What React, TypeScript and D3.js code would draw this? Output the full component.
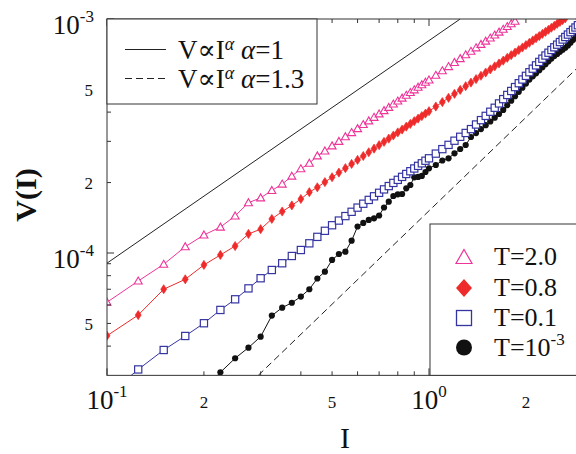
import React from "react";
import * as d3 from "d3";

// Current values (shared x grid)
const CURRENTS = [
  0.1, 0.125, 0.15, 0.175, 0.2, 0.225, 0.25, 0.275, 0.3, 0.325, 0.35, 0.375, 0.4, 0.425, 0.45, 0.475,
  0.5, 0.525, 0.55, 0.575, 0.6, 0.625, 0.65, 0.675, 0.7, 0.725, 0.75, 0.775, 0.8, 0.825, 0.85, 0.875,
  0.9, 0.925, 0.95, 0.975, 1.0, 1.05, 1.1, 1.15, 1.2, 1.25, 1.3, 1.35, 1.4, 1.45, 1.5, 1.55, 1.6,
  1.65, 1.7, 1.75, 1.8, 1.85, 1.9, 1.95, 2.0, 2.05, 2.1, 2.15, 2.2, 2.25, 2.3, 2.35, 2.4, 2.45, 2.5,
  2.55, 2.6, 2.65, 2.7, 2.75, 2.8, 2.85, 2.9,
];

// T = 2.0 (starts at CURRENTS[0])
const V_T20 = [
  6.16e-5, 7.59e-5, 8.95e-5, 1.064e-4, 1.194e-4, 1.29e-4, 1.44e-4, 1.64e-4, 1.72e-4, 1.85e-4, 1.97e-4,
  2.13e-4, 2.29e-4, 2.42e-4, 2.6e-4, 2.73e-4, 2.87e-4, 3.0e-4, 3.14e-4, 3.27e-4, 3.4e-4, 3.54e-4,
  3.67e-4, 3.8e-4, 3.93e-4, 4.06e-4, 4.19e-4, 4.33e-4, 4.46e-4, 4.59e-4, 4.72e-4, 4.85e-4, 4.98e-4,
  5.11e-4, 5.24e-4, 5.37e-4, 5.49e-4, 5.75e-4, 6.01e-4, 6.26e-4, 6.52e-4, 6.77e-4, 7.03e-4, 7.28e-4,
  7.53e-4, 7.79e-4, 8.04e-4, 8.29e-4, 8.54e-4, 8.79e-4, 9.04e-4, 9.29e-4, 9.54e-4, 9.78e-4,
];

// T = 0.8 (starts at CURRENTS[0])
const V_T08 = [
  4.43e-5, 5.43e-5, 7.0e-5, 7.72e-5, 8.89e-5, 9.81e-5, 1.071e-4, 1.206e-4, 1.264e-4, 1.398e-4,
  1.504e-4, 1.597e-4, 1.701e-4, 1.819e-4, 1.909e-4, 2.009e-4, 2.107e-4, 2.207e-4, 2.304e-4, 2.402e-4,
  2.5e-4, 2.597e-4, 2.695e-4, 2.792e-4, 2.888e-4, 2.985e-4, 3.081e-4, 3.178e-4, 3.275e-4, 3.37e-4,
  3.467e-4, 3.562e-4, 3.658e-4, 3.753e-4, 3.847e-4, 3.942e-4, 4.037e-4, 4.226e-4, 4.414e-4, 4.602e-4,
  4.79e-4, 4.976e-4, 5.163e-4, 5.349e-4, 5.535e-4, 5.72e-4, 5.905e-4, 6.089e-4, 6.274e-4, 6.457e-4,
  6.641e-4, 6.824e-4, 7.006e-4, 7.188e-4, 7.371e-4, 7.553e-4, 7.735e-4, 7.915e-4, 8.096e-4, 8.277e-4,
  8.457e-4, 8.637e-4, 8.817e-4, 8.996e-4, 9.176e-4, 9.355e-4, 9.534e-4, 9.713e-4, 9.891e-4, 1.007e-3,
];

// T = 0.1 (starts at CURRENTS[0])
const V_T01 = [
  2.45e-5, 3.18e-5, 3.85e-5, 4.42e-5, 5.01e-5, 5.71e-5, 6.34e-5, 7.06e-5, 7.8e-5, 8.46e-5, 9.04e-5,
  9.71e-5, 1.03e-4, 1.1e-4, 1.172e-4, 1.244e-4, 1.314e-4, 1.376e-4, 1.438e-4, 1.5e-4, 1.563e-4,
  1.624e-4, 1.686e-4, 1.747e-4, 1.808e-4, 1.87e-4, 1.932e-4, 1.993e-4, 2.054e-4, 2.115e-4, 2.176e-4,
  2.236e-4, 2.297e-4, 2.357e-4, 2.417e-4, 2.479e-4, 2.539e-4, 2.659e-4, 2.779e-4, 2.898e-4, 3.019e-4,
  3.138e-4, 3.258e-4, 3.384e-4, 3.541e-4, 3.697e-4, 3.855e-4, 4.015e-4, 4.175e-4, 4.357e-4, 4.545e-4,
  4.736e-4, 4.925e-4, 5.117e-4, 5.316e-4, 5.514e-4, 5.715e-4, 5.923e-4, 6.133e-4, 6.337e-4, 6.555e-4,
  6.766e-4, 6.981e-4, 7.176e-4, 7.371e-4, 7.57e-4, 7.768e-4, 7.971e-4, 8.171e-4, 8.376e-4, 8.579e-4,
  8.787e-4, 8.991e-4, 9.2e-4, 9.406e-4,
];

// T = 10^-3 (starts at CURRENTS[4])
const V_T0001 = [
  2.62e-5, 3.09e-5, 3.55e-5, 3.94e-5, 4.39e-5, 5.4e-5, 5.84e-5, 6.13e-5, 6.51e-5, 7.0e-5, 7.78e-5,
  8.32e-5, 9.34e-5, 9.9e-5, 1.013e-4, 1.129e-4, 1.298e-4, 1.344e-4, 1.384e-4, 1.407e-4, 1.446e-4,
  1.565e-4, 1.657e-4, 1.752e-4, 1.782e-4, 1.787e-4, 1.89e-4, 1.953e-4, 2.106e-4, 2.113e-4, 2.134e-4,
  2.219e-4, 2.301e-4, 2.377e-4, 2.485e-4, 2.539e-4, 2.667e-4, 2.783e-4, 2.894e-4, 3.131e-4, 3.254e-4,
  3.384e-4, 3.517e-4, 3.647e-4, 3.786e-4, 3.927e-4, 4.086e-4, 4.282e-4, 4.477e-4, 4.676e-4, 4.883e-4,
  5.088e-4, 5.296e-4, 5.509e-4, 5.687e-4, 5.861e-4, 6.046e-4, 6.226e-4, 6.41e-4, 6.594e-4, 6.777e-4,
  6.947e-4, 7.092e-4, 7.241e-4, 7.388e-4, 7.536e-4, 7.709e-4, 7.917e-4, 8.123e-4, 8.334e-4, 8.542e-4,
];

// Reference power-law guide lines (endpoints)
const GUIDE_ALPHA1 = [[0.1, 9.05e-5], [1.25, 1.0e-3]];
const GUIDE_ALPHA13 = [[0.295, 3.0e-5], [3.0, 6.5e-4]];

const X_MAJOR = [0.1, 1];
const X_MINOR = [0.2, 0.3, 0.4, 0.5, 0.6, 0.7, 0.8, 0.9, 2, 3];
const Y_MAJOR = [1e-4, 1e-3];
const Y_MINOR = [4e-5, 5e-5, 6e-5, 7e-5, 8e-5, 9e-5, 2e-4, 3e-4, 4e-4, 5e-4, 6e-4, 7e-4, 8e-4, 9e-4];
const X_LABELS = [
  { v: 0.1, base: "10", exp: "-1" },
  { v: 0.2, base: "2" },
  { v: 0.5, base: "5" },
  { v: 1, base: "10", exp: "0" },
  { v: 2, base: "2" },
];
const Y_LABELS = [
  { v: 1e-3, base: "10", exp: "-3" },
  { v: 5e-4, base: "5" },
  { v: 2e-4, base: "2" },
  { v: 1e-4, base: "10", exp: "-4" },
  { v: 5e-5, base: "5" },
];

const SERIF = "'Liberation Serif', 'Times New Roman', 'DejaVu Serif', serif";
const PINK = "#ee3399";
const RED = "#ee2a2a";
const BLUE = "#3434a2";
const BLACK = "#111111";

const W = 576;
const H = 454;
const X0 = 107;
const DEC_X = 322;
const Y0 = 19;
const DEC_Y = 234;

const x = d3.scaleLog().domain([0.1, 3]).range([X0, X0 + DEC_X * Math.log10(30)]);
const y = d3.scaleLog().domain([3e-5, 1e-3]).range([Y0 + DEC_Y * Math.log10(1e-3 / 3e-5), Y0]);

const [PX0, PX1] = x.range();
const [PY1, PY0] = y.range();

type Pt = [number, number];
const pts = (vals: number[], start: number): Pt[] => vals.map((v, i) => [CURRENTS[start + i], v]);

const line = d3
  .line<Pt>()
  .x((d) => x(d[0]))
  .y((d) => y(d[1]));

function tri(cx: number, cy: number, s: number) {
  return `M${cx},${cy - s}L${cx + s},${cy + s * 0.75}L${cx - s},${cy + s * 0.75}Z`;
}
function dia(cx: number, cy: number, w: number, h: number) {
  return `M${cx},${cy - h}L${cx + w},${cy}L${cx},${cy + h}L${cx - w},${cy}Z`;
}

export default function App() {
  const sBlack = pts(V_T0001, 4);
  const sBlue = pts(V_T01, 0);
  const sRed = pts(V_T08, 0);
  const sPink = pts(V_T20, 0);

  return (
    <svg
      width={W}
      height={H}
      viewBox={`0 0 ${W} ${H}`}
      style={{ position: "absolute", left: 0, top: 0, background: "#fff" }}
      fontFamily={SERIF}
    >
      <defs>
        <clipPath id="plot">
          <rect x={PX0} y={PY0} width={PX1 - PX0} height={PY1 - PY0} />
        </clipPath>
      </defs>

      <g clipPath="url(#plot)">
        {/* guide lines */}
        <path d={line(GUIDE_ALPHA1 as Pt[]) || ""} stroke="#222" strokeWidth={1} fill="none" />
        <path
          d={line(GUIDE_ALPHA13 as Pt[]) || ""}
          stroke="#222"
          strokeWidth={1}
          fill="none"
          strokeDasharray="7,4"
        />

        {/* T = 1e-3 */}
        <path d={line(sBlack) || ""} stroke={BLACK} strokeWidth={1} fill="none" />
        {sBlack.map((d, i) => (
          <circle key={"k" + i} cx={x(d[0])} cy={y(d[1])} r={3.1} fill={BLACK} />
        ))}

        {/* T = 0.1 */}
        <path d={line(sBlue) || ""} stroke={BLUE} strokeWidth={1} fill="none" />
        {sBlue.map((d, i) => (
          <rect
            key={"b" + i}
            x={x(d[0]) - 3.6}
            y={y(d[1]) - 3.6}
            width={7.2}
            height={7.2}
            fill="#fff"
            stroke={BLUE}
            strokeWidth={1.2}
          />
        ))}

        {/* T = 0.8 */}
        <path d={line(sRed) || ""} stroke={RED} strokeWidth={1} fill="none" />
        {sRed.map((d, i) => (
          <path key={"r" + i} d={dia(x(d[0]), y(d[1]), 3, 4.6)} fill={RED} stroke={RED} strokeWidth={0.6} />
        ))}

        {/* T = 2.0 */}
        <path d={line(sPink) || ""} stroke={PINK} strokeWidth={1} fill="none" />
        {sPink.map((d, i) => (
          <path key={"p" + i} d={tri(x(d[0]), y(d[1]), 4)} fill="#fff" stroke={PINK} strokeWidth={1.1} />
        ))}
      </g>

      {/* frame */}
      <rect x={PX0} y={PY0} width={PX1 - PX0} height={PY1 - PY0} fill="none" stroke="#333" strokeWidth={1} />

      {/* ticks */}
      {X_MAJOR.concat(X_MINOR).map((v, i) => {
        const len = X_MAJOR.includes(v) ? 7 : 4;
        return (
          <g key={"xt" + i} stroke="#333" strokeWidth={1}>
            <line x1={x(v)} x2={x(v)} y1={PY1} y2={PY1 - len} />
            <line x1={x(v)} x2={x(v)} y1={PY0} y2={PY0 + len} />
          </g>
        );
      })}
      {Y_MAJOR.concat(Y_MINOR).map((v, i) => {
        const len = Y_MAJOR.includes(v) ? 7 : 4;
        return (
          <g key={"yt" + i} stroke="#333" strokeWidth={1}>
            <line x1={PX0} x2={PX0 + len} y1={y(v)} y2={y(v)} />
            <line x1={PX1} x2={PX1 - len} y1={y(v)} y2={y(v)} />
          </g>
        );
      })}

      {/* tick labels */}
      {X_LABELS.map((t, i) =>
        t.exp ? (
          <text key={"xl" + i} x={x(t.v)} y={409} textAnchor="middle" fontSize={27} fill="#111">
            {t.base}
            <tspan dy={-12} fontSize={17}>
              {t.exp}
            </tspan>
          </text>
        ) : (
          <text key={"xl" + i} x={x(t.v)} y={408} textAnchor="middle" fontSize={17} fill="#111">
            {t.base}
          </text>
        )
      )}
      {Y_LABELS.map((t, i) =>
        t.exp ? (
          <text key={"yl" + i} x={94} y={y(t.v) + 15} textAnchor="end" fontSize={27} fill="#111">
            {t.base}
            <tspan dy={-12} fontSize={17}>
              {t.exp}
            </tspan>
          </text>
        ) : (
          <text key={"yl" + i} x={93} y={y(t.v) + 6.5} textAnchor="end" fontSize={17} fill="#111">
            {t.base}
          </text>
        )
      )}

      {/* axis titles */}
      <text x={345} y={447.5} textAnchor="middle" fontSize={30} fill="#111">
        I
      </text>
      <text
        transform="translate(36,195) rotate(-90)"
        textAnchor="middle"
        fontSize={30}
        fontWeight="bold"
        fill="#111"
      >
        V(I)
      </text>

      {/* legend: guide lines */}
      <rect x={PX0} y={PY0} width={210} height={85} fill="#fff" stroke="#333" strokeWidth={1} />
      <line x1={125} x2={166} y1={49.5} y2={49.5} stroke="#222" strokeWidth={1} />
      <line x1={125} x2={166} y1={78.5} y2={78.5} stroke="#222" strokeWidth={1} strokeDasharray="7,4" />
      <text x={178} y={58.5} fontSize={27} fill="#111">
        V∝I
        <tspan dy={-9} fontSize={18} fontStyle="italic">
          α
        </tspan>
        <tspan dy={9} fontSize={27}>
          {" "}
        </tspan>
        <tspan fontStyle="italic">α</tspan>
        <tspan>=1</tspan>
      </text>
      <text x={178} y={87.5} fontSize={27} fill="#111">
        V∝I
        <tspan dy={-9} fontSize={18} fontStyle="italic">
          α
        </tspan>
        <tspan dy={9} fontSize={27}>
          {" "}
        </tspan>
        <tspan fontStyle="italic">α</tspan>
        <tspan>=1.3</tspan>
      </text>

      {/* legend: temperatures */}
      <rect x={430} y={224} width={PX1 - 430} height={PY1 - 224} fill="#fff" stroke="#333" strokeWidth={1} />
      <path d={tri(464, 257.5, 8)} fill="#fff" stroke={PINK} strokeWidth={1.2} />
      <path d={dia(464, 288, 8, 9)} fill={RED} />
      <rect x={456.5} y={310.5} width={15} height={15} fill="#fff" stroke={BLUE} strokeWidth={1.3} />
      <circle cx={464} cy={347.5} r={8} fill={BLACK} />
      <text x={494} y={265} fontSize={26} fill="#111">
        T=2.0
      </text>
      <text x={494} y={295.5} fontSize={26} fill="#111">
        T=0.8
      </text>
      <text x={494} y={326} fontSize={26} fill="#111">
        T=0.1
      </text>
      <text x={494} y={356} fontSize={26} fill="#111">
        T=10
        <tspan dy={-11} fontSize={17}>
          -3
        </tspan>
      </text>
    </svg>
  );
}
